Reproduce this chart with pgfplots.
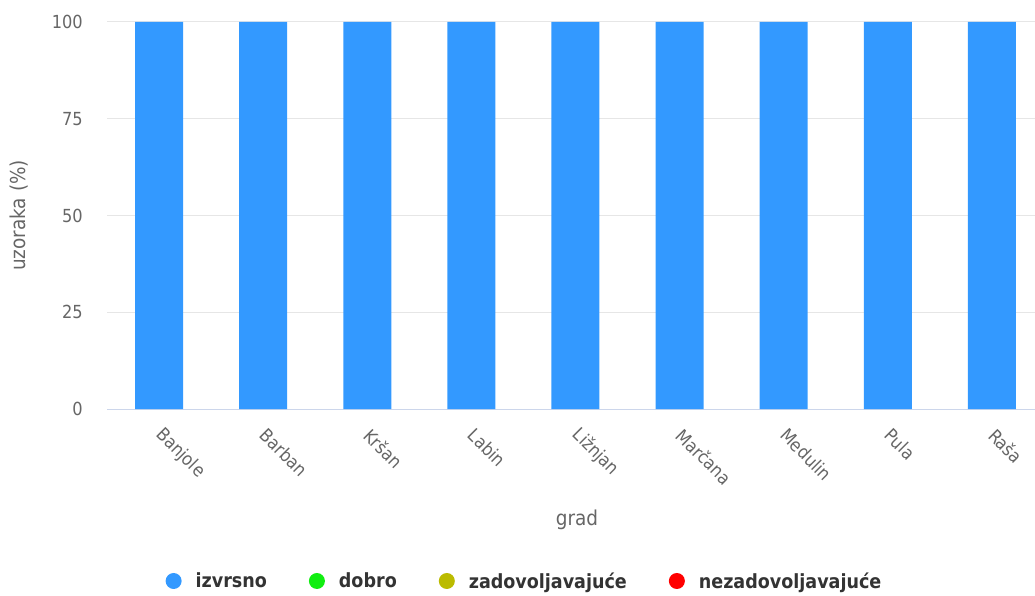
\documentclass[border=0pt]{standalone}
\usepackage{fontspec}
\setmainfont{DejaVu Sans Condensed}
\usepackage{pgfplots}
\pgfplotsset{compat=1.18}

\definecolor{izvrsno}{HTML}{3399FF}
\definecolor{dobro}{HTML}{11EE11}
\definecolor{zadov}{HTML}{BBBB00}
\definecolor{nezadov}{HTML}{FF0000}
\definecolor{gridc}{HTML}{E6E6E6}
\definecolor{axisc}{HTML}{CCD6EB}
\definecolor{labelc}{HTML}{666666}
\definecolor{legendc}{HTML}{333333}

\begin{document}
\begin{tikzpicture}
\useasboundingbox (0,0) rectangle (1035pt,595pt);
\begin{axis}[
    at={(107pt,186pt)}, anchor=south west,
    scale only axis,
    width=928pt, height=387pt,
    ybar stacked,
    bar width=48pt,
    xmin=-0.5, xmax=8.414,
    ymin=0, ymax=100,
    xtick={0,...,8},
    xticklabels={Banjole,Barban,Kršan,Labin,Ližnjan,Marčana,Medulin,Pula,Raša},
    ytick={0,25,50,75,100},
    /pgf/number format/assume math mode=true,
    ymajorgrids,
    grid style={draw=gridc, line width=1pt},
    axis x line*=bottom,
    axis y line*=left,
    x axis line style={draw=axisc, line width=1pt},
    y axis line style={draw=none},
    major tick length=0pt,
    tick style={draw=none},
    every tick label/.append style={font=\fontsize{18}{20}\selectfont, text=labelc, inner sep=0pt},
    xticklabel style={rotate=-45, anchor=west},
    xticklabel shift=23pt,
    yticklabel style={anchor=east},
    yticklabel shift=24pt,
    xlabel={grad},
    ylabel={uzoraka (\%)},
    label style={font=\fontsize{20.5}{22}\selectfont, text=labelc, inner sep=0pt},
    xlabel style={at={(axis description cs:0.5065,0)}, anchor=center, yshift=-111pt},
    ylabel style={at={(axis description cs:0,0.5)}, anchor=center, yshift=88pt},
    legend columns=4,
    legend style={at={(axis description cs:0.4488,-0.4444)}, anchor=center,
        draw=none, fill=none,
        font=\fontsize{19.5}{21}\selectfont\bfseries, text=legendc,
        nodes={inner sep=0pt},
        /tikz/every odd column/.append style={column sep=14pt},
        /tikz/every even column/.append style={column sep=42pt}},
    legend image code/.code={\fill[#1, draw=none] (0pt,0pt) circle (8pt);},
]
\addplot[fill=izvrsno, draw=none] coordinates {
    (0,100) (1,100) (2,100) (3,100) (4,100) (5,100) (6,100) (7,100) (8,100)
};
\addplot[fill=dobro, draw=none] coordinates {
    (0,0) (1,0) (2,0) (3,0) (4,0) (5,0) (6,0) (7,0) (8,0)
};
\addplot[fill=zadov, draw=none] coordinates {
    (0,0) (1,0) (2,0) (3,0) (4,0) (5,0) (6,0) (7,0) (8,0)
};
\addplot[fill=nezadov, draw=none] coordinates {
    (0,0) (1,0) (2,0) (3,0) (4,0) (5,0) (6,0) (7,0) (8,0)
};
\legend{izvrsno, dobro, zadovoljavajuće, nezadovoljavajuće}
\end{axis}
\end{tikzpicture}
\end{document}
